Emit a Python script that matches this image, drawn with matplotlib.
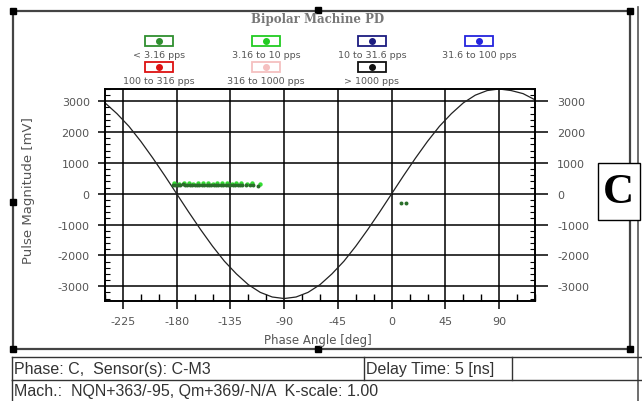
# Bipolar Machine PD グラフの再現
import matplotlib
matplotlib.use('Agg')
import matplotlib.pyplot as plt
from matplotlib.patches import Rectangle
from matplotlib.ticker import MultipleLocator

plt.rcParams['font.family'] = ['DejaVu Sans']
plt.rcParams['axes.unicode_minus'] = False

# 基準の正弦波 (位相[deg], 振幅[mV])
sine_phase = [-240, -230, -220, -210, -200, -190, -180, -170, -160, -150,
              -140, -130, -120, -110, -100, -90, -80, -70, -60, -50,
              -40, -30, -20, -10, 0, 10, 20, 30, 40, 50,
              60, 70, 80, 90, 100, 110, 120]
sine_mag = [2950, 2600, 2190, 1700, 1160, 590, 0, -590, -1160, -1700,
            -2190, -2600, -2950, -3200, -3350, -3400, -3350, -3200, -2950, -2600,
            -2190, -1700, -1160, -590, 0, 590, 1160, 1700, 2190, 2600,
            2950, 3200, 3350, 3400, 3350, 3250, 3050]

# < 3.16 pps (濃い緑)
low_phase = [-183, -181, -179, -177, -175, -173, -171, -169, -167, -165,
             -163, -161, -159, -157, -155, -153, -151, -149, -147, -145,
             -143, -141, -139, -137, -135, -133, -131, -129, -127, -125,
             -122, -119, -116, -112, 8, 12]
low_mag = [280, 300, 270, 290, 310, 280, 300, 270, 290, 300,
           280, 300, 290, 270, 300, 290, 280, 300, 270, 290,
           300, 280, 290, 300, 270, 290, 300, 280, 290, 300,
           280, 290, 300, 260, -290, -290]

# 3.16 to 10 pps (明るい緑)
mid_phase = [-182, -178, -174, -170, -166, -162, -158, -154, -150, -146,
             -142, -138, -134, -130, -126, -121, -117, -110]
mid_mag = [340, 330, 350, 340, 330, 350, 340, 350, 330, 340,
           350, 340, 330, 350, 340, 330, 340, 320]

# 凡例
legend_labels = ['< 3.16 pps', '3.16 to 10 pps', '10 to 31.6 pps', '31.6 to 100 pps',
                 '100 to 316 pps', '316 to 1000 pps', '> 1000 pps']
legend_colors = ['#2f8f2f', '#22cc22', '#1c1c80', '#2424dd',
                 '#dd1111', '#f5c0c0', '#111111']

x_ticks = [-225, -180, -135, -90, -45, 0, 45, 90]
y_ticks = [-3000, -2000, -1000, 0, 1000, 2000, 3000]

W, H = 642, 402
fig = plt.figure(figsize=(W / 100, H / 100), dpi=100)

# 背景の枠や表はピクセル座標のオーバーレイに描く
bg = fig.add_axes([0, 0, 1, 1], zorder=0)
bg.set_xlim(0, W)
bg.set_ylim(H, 0)
bg.axis('off')

# 外枠
bg.add_patch(Rectangle((13, 12), 617, 338, fill=False, ec='#444444', lw=1.6))
bg.plot([638, 638], [8, H], color='#555555', lw=1.2)
for hx, hy in [(13, 12), (630, 12), (13, 350), (630, 350), (318, 11), (318, 350), (13, 203)]:
    bg.add_patch(Rectangle((hx - 3, hy - 3), 6, 6, color='black'))

# タイトル
bg.text(318, 19, 'Bipolar Machine PD', ha='center', va='center', fontsize=8.5,
        family='DejaVu Serif', weight='bold', color='#777777')

# 凡例 (箱の中に点)
col_x = [159, 266, 372, 479]
row_y = [42, 68]
for i, (lab, c) in enumerate(zip(legend_labels, legend_colors)):
    cx = col_x[i % 4]
    cy = row_y[i // 4]
    bg.add_patch(Rectangle((cx - 14, cy - 5), 28, 10, fill=False, ec=c, lw=1.3))
    bg.plot([cx], [cy], 'o', ms=4, color=c)
    bg.text(cx, cy + 13, lab, ha='center', va='center', fontsize=6.8, color='#555555')

# 軸ラベル
bg.text(318, 341, 'Phase Angle [deg]', ha='center', va='center', fontsize=8.5, color='#555555')
bg.text(29, 191, 'Pulse Magnitude [mV]', ha='center', va='center', fontsize=9.5,
        rotation=90, color='#555555')

# C の箱
bg.add_patch(Rectangle((598, 164), 42, 57, fc='white', ec='black', lw=1, zorder=3))
bg.text(618, 193, 'C', ha='center', va='center', fontsize=31, family='Liberation Serif',
        weight='bold', color='black', zorder=4)

# 下の表
bg.plot([12, W], [358, 358], color='#333333', lw=1)
bg.plot([12, W], [381, 381], color='#333333', lw=1)
for vx in [12, 364, 512]:
    bg.plot([vx, vx], [358, 381], color='#333333', lw=1)
bg.plot([12, 12], [381, H], color='#333333', lw=1)
tbl_font = dict(ha='left', va='center', fontsize=11.5, color='#333333', family='Liberation Sans')
bg.text(14, 370, 'Phase: C,  Sensor(s): C-M3', **tbl_font)
bg.text(366, 370, 'Delay Time: 5 [ns]', **tbl_font)
bg.text(14, 392, 'Mach.:  NQN+363/-95, Qm+369/-N/A  K-scale: 1.00', **tbl_font)

# メインのグラフ
left, right, top, bottom = 105, 535, 90, 302
ax = fig.add_axes([left / W, (H - bottom) / H, (right - left) / W, (bottom - top) / H], zorder=2)
ax.plot(sine_phase, sine_mag, color='#222222', lw=0.9, zorder=3)
ax.scatter(mid_phase, mid_mag, s=10, color='#33dd33', zorder=4, linewidths=0)
ax.scatter(low_phase, low_mag, s=8, color='#2a6e2a', zorder=5, linewidths=0)
ax.set_xlim(-240, 120)
ax.set_ylim(-3480, 3400)
ax.set_xticks(x_ticks)
ax.set_yticks(y_ticks)
ax.xaxis.set_minor_locator(MultipleLocator(15))
ax.yaxis.set_minor_locator(MultipleLocator(200))
ax.grid(True, which='major', color='black', lw=1.1)
for s in ax.spines.values():
    s.set_linewidth(1.2)
ax.tick_params(axis='x', which='major', direction='out', length=6, width=1.1,
               pad=5, labelsize=8, labelcolor='#555555')
ax.tick_params(axis='x', which='minor', direction='in', length=5, width=1, top=False)
ax.tick_params(axis='y', which='major', direction='out', length=5, width=1.1,
               pad=6, labelsize=8, labelcolor='#555555')
ax.tick_params(axis='y', which='minor', direction='in', length=3.5, width=0.8, right=True)

ax2 = ax.twinx()
ax2.set_ylim(ax.get_ylim())
ax2.set_yticks(y_ticks)
ax2.yaxis.set_minor_locator(MultipleLocator(200))
ax2.tick_params(axis='y', which='major', direction='out', length=9, width=1.1,
                pad=7, labelsize=8, labelcolor='#555555')
ax2.tick_params(axis='y', which='minor', direction='in', length=3.5, width=0.8)
for s in ax2.spines.values():
    s.set_linewidth(1.2)

fig.savefig('out.png', dpi=100)
